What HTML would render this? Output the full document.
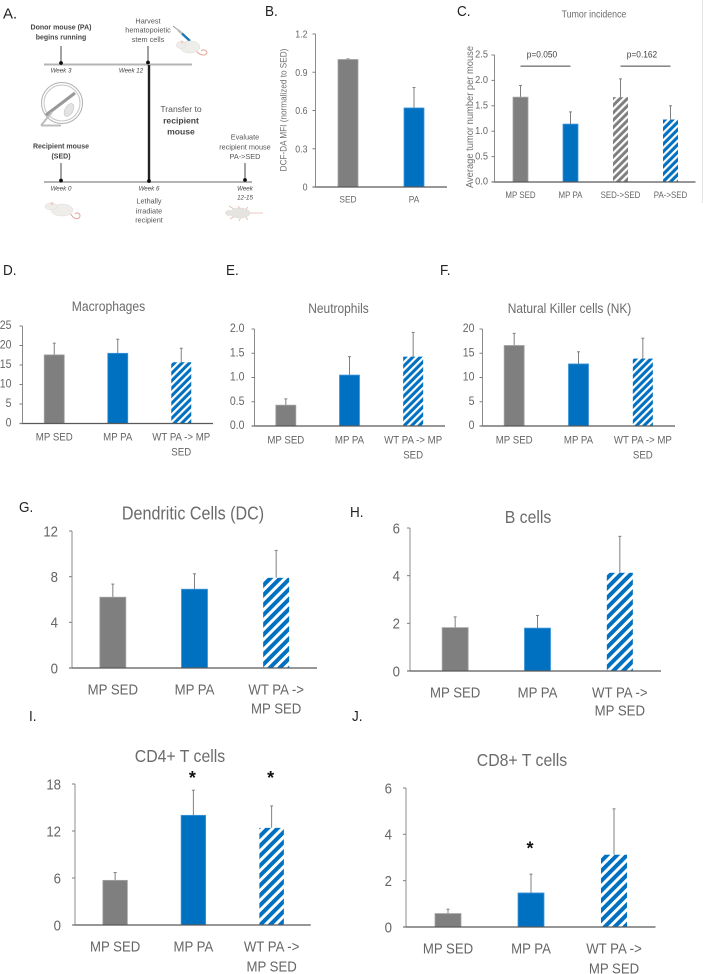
<!DOCTYPE html>
<html lang="en">
<head>
<meta charset="utf-8">
<title>Exercise and tumor incidence figure</title>
<style>
html,body{margin:0;padding:0;background:#fff;}
#figure{display:block;width:703px;height:974px;font-family:"Liberation Sans",sans-serif;}
#schematic text{font-family:"Liberation Sans",sans-serif;text-anchor:middle;dominant-baseline:central;}
</style>
</head>
<body>
<svg id="figure" xmlns="http://www.w3.org/2000/svg" width="703" height="974" viewBox="0 0 703 974">
<defs>
<filter id="soft" x="-5%" y="-5%" width="110%" height="110%"><feGaussianBlur stdDeviation="0.35"/></filter>
<pattern id="hatch-blue" width="5.3" height="6" patternUnits="userSpaceOnUse" patternTransform="rotate(45)"><rect width="5.3" height="6" fill="#0070c0"/><rect width="2.2" height="6" fill="#fff"/></pattern>
<pattern id="hatch-gray" width="5.2" height="6" patternUnits="userSpaceOnUse" patternTransform="rotate(45)"><rect width="5.2" height="6" fill="#7f7f7f"/><rect width="2.2" height="6" fill="#fff"/></pattern>
<pattern id="hatch-blue-large" width="7" height="6" patternUnits="userSpaceOnUse" patternTransform="rotate(45)"><rect width="7" height="6" fill="#0070c0"/><rect width="3" height="6" fill="#fff"/></pattern>
</defs>
<line x1="702.5" y1="0" x2="702.5" y2="203" stroke="#e4e4e4" stroke-width="1"/>
<text x="3" y="14" font-size="15" fill="#222" dominant-baseline="central">A.</text>

<g id="schematic" filter="url(#soft)">
  <line x1="44" y1="64.5" x2="192" y2="64.5" stroke="#b4b4b4" stroke-width="2"/>
  <line x1="44" y1="182" x2="252" y2="182" stroke="#b4b4b4" stroke-width="2"/>
  <line x1="149" y1="65" x2="149" y2="182" stroke="#222" stroke-width="2.4"/>
  <g stroke="#444" stroke-width="1">
    <line x1="61" y1="46" x2="61" y2="63"/><line x1="148" y1="46" x2="148" y2="63"/>
    <line x1="61" y1="163" x2="61" y2="181"/><line x1="245" y1="163" x2="245" y2="181"/>
  </g>
  <g fill="#111">
    <circle cx="61" cy="63" r="1.9"/><circle cx="148" cy="62.5" r="1.9"/><circle cx="61" cy="180.5" r="1.9"/><circle cx="149" cy="181" r="1.9"/><circle cx="245" cy="180" r="1.9"/>
  </g>
  <g fill="none">
    <circle cx="62" cy="103" r="20.5" stroke="#b0b0b0" stroke-width="1"/>
    <circle cx="62" cy="103" r="18" stroke="#c4c4c4" stroke-width="1"/>
    <line x1="46" y1="115" x2="75" y2="93" stroke="#999" stroke-width="3"/>
    <path d="M41 125.5H61M41 125.5L52 112" stroke="#bdbdbd" stroke-width="2"/>
    <ellipse cx="69" cy="110" rx="4" ry="7" transform="rotate(30 69 110)" fill="#e3e3e3" stroke="#c4c4c4" stroke-width=".6"/>
  </g>
  <g>
    <line x1="173" y1="26" x2="178" y2="30" stroke="#999" stroke-width="1"/>
    <line x1="178" y1="30" x2="182" y2="33.5" stroke="#bbb" stroke-width="2.4"/>
    <line x1="182" y1="33.5" x2="190" y2="41" stroke="#1f78b4" stroke-width="2.4"/>
  </g>
  <g>
    <path d="M196 51C201 56 205 56 207 53C207 50 203 49 201 51" fill="none" stroke="#e4a596" stroke-width="1"/>
    <ellipse cx="190" cy="47" rx="10" ry="6" fill="#efedea" stroke="#ddd" stroke-width=".5"/>
    <ellipse cx="181" cy="45" rx="5" ry="3.4" fill="#efedea" stroke="#ddd" stroke-width=".5"/>
    <circle cx="182" cy="42" r="1.5" fill="#eecfc8"/>
  </g>
  <g>
    <path d="M70 213C74 220 79 220 80 216C80 213 77 212 75 214" fill="none" stroke="#e4a596" stroke-width="1"/>
    <ellipse cx="62" cy="210" rx="11" ry="6" fill="#efedea" stroke="#ddd" stroke-width=".5"/>
    <ellipse cx="51" cy="206.5" rx="6" ry="3.4" fill="#efedea" stroke="#ddd" stroke-width=".5"/>
    <circle cx="52" cy="203.5" r="1.5" fill="#eecfc8"/>
  </g>
  <g>
    <path d="M250 213H263M229 206L234 209M230 219L235 216M238 206L241 210M239 221L241 217M248 207L245 210M248 220L245 216" fill="none" stroke="#e4b5aa" stroke-width=".8"/>
    <ellipse cx="240" cy="213" rx="10" ry="5" fill="#e6e4e0" stroke="#d8d8d8" stroke-width=".5"/>
    <ellipse cx="229" cy="213" rx="4" ry="3" fill="#e6e4e0"/>
  </g>
  <g fill="#555" font-size="7.3">
    <g font-weight="bold" fill="#444" font-size="7">
      <text x="61" y="28">Donor mouse (PA)</text><text x="61" y="38">begins running</text>
      <text x="61" y="147">Recipient mouse</text><text x="61" y="157">(SED)</text>
    </g>
    <text x="148" y="21">Harvest</text><text x="148" y="30">hematopoietic</text><text x="148" y="39.5">stem cells</text>
    <g font-style="italic" fill="#444" font-size="6.2">
      <text x="61" y="71">Week 3</text><text x="131" y="71">Week 12</text>
      <text x="61" y="189">Week 0</text><text x="149" y="189">Week 6</text>
      <text x="245" y="189">Week</text><text x="245" y="198">12-15</text>
    </g>
    <text x="181" y="109" font-size="8.6">Transfer to</text>
    <text x="181" y="120.5" font-size="8.6" font-weight="bold" fill="#444">recipient</text>
    <text x="181" y="131.5" font-size="8.6" font-weight="bold" fill="#444">mouse</text>
    <text x="149" y="201">Lethally</text><text x="149" y="211">irradiate</text><text x="149" y="220">recipient</text>
    <text x="245" y="137">Evaluate</text><text x="245" y="147">recipient mouse</text><text x="245" y="156.5">PA-&gt;SED</text>
  </g>
</g>
<g id="charts"></g>
</svg>
<script>
// ---------- chart data ----------
const bCategories = ['SED', 'PA'];
const bValues = [1.0, 0.62];
const bErrors = [0.005, 0.16];
const bTicks = [0, 0.3, 0.6, 0.9, 1.2];
const bTickLabels = ['0', '0.3', '0.6', '0.9', '1.2'];

const cCategories = ['MP SED', 'MP PA', 'SED->SED', 'PA->SED'];
const cValues = [1.67, 1.14, 1.67, 1.23];
const cErrors = [0.23, 0.24, 0.36, 0.27];
const cTicks = [0, 0.5, 1.0, 1.5, 2.0, 2.5];
const cTickLabels = ['0.0', '0.5', '1.0', '1.5', '2.0', '2.5'];
const cPLabels = ['p=0.050', 'p=0.162'];
const cPLevel = 2.28;

const dCategories = ['MP SED', 'MP PA', 'WT PA -> MP|SED'];
const dValues = [17.6, 18.0, 15.7];
const dErrors = [3.0, 3.6, 3.6];
const dTicks = [0, 5, 10, 15, 20, 25];
const dTickLabels = ['0', '5', '10', '15', '20', '25'];

const eCategories = ['MP SED', 'MP PA', 'WT PA -> MP|SED'];
const eValues = [0.43, 1.05, 1.43];
const eErrors = [0.13, 0.38, 0.5];
const eTicks = [0, 0.5, 1.0, 1.5, 2.0];
const eTickLabels = ['0.0', '0.5', '1.0', '1.5', '2.0'];

const fCategories = ['MP SED', 'MP PA', 'WT PA -> MP|SED'];
const fValues = [16.6, 12.8, 13.9];
const fErrors = [2.5, 2.5, 4.2];
const fTicks = [0, 5, 10, 15, 20];
const fTickLabels = ['0', '5', '10', '15', '20'];

const gCategories = ['MP SED', 'MP PA', 'WT PA ->|MP SED'];
const gValues = [6.2, 6.9, 7.9];
const gErrors = [1.15, 1.35, 2.4];
const gTicks = [0, 4, 8, 12];
const gTickLabels = ['0', '4', '8', '12'];

const hCategories = ['MP SED', 'MP PA', 'WT PA ->|MP SED'];
const hValues = [1.82, 1.8, 4.12];
const hErrors = [0.45, 0.53, 1.53];
const hTicks = [0, 2, 4, 6];
const hTickLabels = ['0', '2', '4', '6'];

const iCategories = ['MP SED', 'MP PA', 'WT PA ->|MP SED'];
const iValues = [5.7, 14.0, 12.4];
const iErrors = [1.0, 3.2, 2.8];
const iTicks = [0, 6, 12, 18];
const iTickLabels = ['0', '6', '12', '18'];
const iStars = [null, 19.1, 19.1];

const jCategories = ['MP SED', 'MP PA', 'WT PA ->|MP SED'];
const jValues = [0.58, 1.47, 3.12];
const jErrors = [0.19, 0.81, 1.98];
const jTicks = [0, 2, 4, 6];
const jTickLabels = ['0', '2', '4', '6'];
const jStars = [null, 3.5, null];

// ---------- drawing ----------
const NS = 'http://www.w3.org/2000/svg';
const chartsRoot = document.getElementById('charts');
const INK = '#666666';

function shape(parent, tag, props) {
  const el = document.createElementNS(NS, tag);
  for (const k in props) el.setAttribute(k, props[k]);
  parent.appendChild(el);
  return el;
}
function label(parent, x, y, str, size, anchor, sx, fill, weight) {
  const el = shape(parent, 'text', {
    transform: 'translate(' + x + ' ' + y + ') scale(' + (sx || 1) + ' 1)',
    'font-size': size, 'text-anchor': anchor || 'middle', 'dominant-baseline': 'central',
    fill: fill || INK
  });
  if (weight) el.setAttribute('font-weight', weight);
  el.textContent = str;
  return el;
}

function drawPanel(p) {
  const g = shape(chartsRoot, 'g', {});
  
  

  const maxTick = p.ticks[p.ticks.length - 1];
  const yScale = v => p.bottom - (v / maxTick) * (p.bottom - p.top);
  const band = (p.right - p.left) / p.categories.length;
  const xScale = i => p.left + (i + 0.5) * band;

  const letter = label(g, p.letterX, p.letterY, p.id.toUpperCase() + '.', p.letterSize, 'start', 0.9, '#222');
  
  

  if (p.title) {
    const title = label(g, p.titleX, p.titleY, p.title, p.titleSize, 'middle', 0.88, '#6b6b6b');
    
    
  }

  p.values.forEach((v, i) => {
    const top = yScale(v);
    const errTop = yScale(v + p.errors[i]);
    const cx = xScale(i);

    const err = shape(g, 'line', { x1: cx, x2: cx, y1: top, y2: errTop, stroke: '#808080', 'stroke-width': 1 });
    
    

    const cap = shape(g, 'line', { x1: cx - 1.5, x2: cx + 1.5, y1: errTop, y2: errTop, stroke: '#808080', 'stroke-width': 1 });
    
    

    const bar = shape(g, 'rect', {
      x: cx - p.barWidth / 2, y: top, width: p.barWidth, height: p.bottom - top,
      fill: p.fills[i], stroke: p.strokes[i], 'stroke-width': 0.8
    });
    
    

    p.categories[i].split('|').forEach((line, k) => {
      const cat = label(g, cx, p.catY + k * p.catGap, line, p.catSize, 'middle', 0.88);
      
      
    });
  });

  const yAxis = shape(g, 'line', { x1: p.axisX, x2: p.axisX, y1: p.top, y2: p.bottom, stroke: '#8c8c8c', 'stroke-width': 1 });
  
  

  const xAxis = shape(g, 'line', { x1: p.axisX - 3, x2: p.right, y1: p.bottom, y2: p.bottom, stroke: '#595959', 'stroke-width': 1.3 });
  
  

  p.ticks.forEach((t, i) => {
    const ty = yScale(t);
    const tick = shape(g, 'line', { x1: p.axisX - 3, x2: p.axisX, y1: ty, y2: ty, stroke: '#7f7f7f', 'stroke-width': 1 });
    
    
    const tl = label(g, p.axisX - p.tickGap, ty, p.tickLabels[i], p.tickSize, 'end', 0.88);
    
    
  });

  if (p.stars) {
    p.stars.forEach((s, i) => {
      if (s === null) return;
      const star = label(g, xScale(i) - 1, yScale(s) + 2.5, '*', 18, 'middle', 1, '#111', 'bold');
      
      
    });
  }

  if (p.yTitle) {
    const yt = label(g, p.yTitleX, p.yTitleY, p.yTitle, p.yTitleSize, 'middle', 1, '#707070');
    yt.setAttribute('transform', 'translate(' + p.yTitleX + ' ' + p.yTitleY + ') rotate(-90) scale(0.9 1)');
    
    
  }

  if (p.pLabels) {
    p.pLabels.forEach((txt, k) => {
      const a = xScale(k * 2);
      const b = xScale(k * 2 + 1);
      const py = yScale(p.pLevel);
      const rule = shape(g, 'line', { x1: a, x2: b, y1: py, y2: py, stroke: '#444', 'stroke-width': 1 });
      
      
      const pt = label(g, (a + b) / 2 - 3.5, py - 12, txt, 9.5, 'middle', 0.88, '#404040');
      
      
    });
  }
}

const GRAY = '#7f7f7f', BLUE = '#0070c0', HB = 'url(#hatch-blue)', HL = 'url(#hatch-blue-large)', HG = 'url(#hatch-gray)';
const S_GRAY = '#a3a3a3', S_BLUE = '#3f97dc';
const threeFills = [GRAY, BLUE, HB];
const largeFills = [GRAY, BLUE, HL];
const threeStrokes = [S_GRAY, S_BLUE, 'none'];

drawPanel({ id: 'b', title: '', titleX: 0, titleY: 0, titleSize: 10, letterX: 265, letterY: 12, letterSize: 15,
  categories: bCategories, values: bValues, errors: bErrors, ticks: bTicks, tickLabels: bTickLabels,
  left: 315, right: 447, axisX: 315.5, top: 34, bottom: 187, barWidth: 20, fills: [GRAY, BLUE], strokes: [S_GRAY, S_BLUE],
  catY: 199.5, catGap: 12, catSize: 9.5, tickGap: 8, tickSize: 10,
  yTitle: 'DCF-DA MFI (normalized to SED)', yTitleX: 283.5, yTitleY: 110, yTitleSize: 9.1 });

drawPanel({ id: 'c', title: 'Tumor incidence', titleX: 594, titleY: 14, titleSize: 10, letterX: 457, letterY: 12, letterSize: 15,
  categories: cCategories, values: cValues, errors: cErrors, ticks: cTicks, tickLabels: cTickLabels,
  left: 495.5, right: 695.5, axisX: 494.5, top: 55, bottom: 182, barWidth: 15, fills: [GRAY, BLUE, HG, HB], strokes: [S_GRAY, S_BLUE, 'none', 'none'],
  catY: 195, catGap: 12, catSize: 9, tickGap: 6.5, tickSize: 10.5,
  yTitle: 'Average tumor number per mouse', yTitleX: 470.5, yTitleY: 117, yTitleSize: 10.4,
  pLabels: cPLabels, pLevel: cPLevel });

drawPanel({ id: 'd', title: 'Macrophages', titleX: 108.5, titleY: 306, titleSize: 13.8, letterX: 3, letterY: 271, letterSize: 15,
  categories: dCategories, values: dValues, errors: dErrors, ticks: dTicks, tickLabels: dTickLabels,
  left: 22.5, right: 213, axisX: 22.5, top: 326, bottom: 423.5, barWidth: 20, fills: threeFills, strokes: threeStrokes,
  catY: 438, catGap: 15, catSize: 11, tickGap: 11, tickSize: 12 });

drawPanel({ id: 'e', title: 'Neutrophils', titleX: 338.5, titleY: 308, titleSize: 13.6, letterX: 226, letterY: 271, letterSize: 15,
  categories: eCategories, values: eValues, errors: eErrors, ticks: eTicks, tickLabels: eTickLabels,
  left: 254, right: 445, axisX: 254.5, top: 329, bottom: 426, barWidth: 20, fills: threeFills, strokes: threeStrokes,
  catY: 441, catGap: 15, catSize: 11, tickGap: 10, tickSize: 12 });

drawPanel({ id: 'f', title: 'Natural Killer cells (NK)', titleX: 569.5, titleY: 308, titleSize: 13.6, letterX: 440, letterY: 271, letterSize: 15,
  categories: fCategories, values: fValues, errors: fErrors, ticks: fTicks, tickLabels: fTickLabels,
  left: 482, right: 675, axisX: 482.5, top: 329, bottom: 426, barWidth: 20, fills: threeFills, strokes: threeStrokes,
  catY: 441, catGap: 15, catSize: 11, tickGap: 8, tickSize: 12 });

drawPanel({ id: 'g', title: 'Dendritic Cells (DC)', titleX: 193, titleY: 513, titleSize: 18.3, letterX: 19, letterY: 508, letterSize: 15,
  categories: gCategories, values: gValues, errors: gErrors, ticks: gTicks, tickLabels: gTickLabels,
  left: 72, right: 317, axisX: 72, top: 531, bottom: 668, barWidth: 26, fills: largeFills, strokes: threeStrokes,
  catY: 689, catGap: 19, catSize: 15, tickGap: 14, tickSize: 15 });

drawPanel({ id: 'h', title: 'B cells', titleX: 528, titleY: 517, titleSize: 18, letterX: 350, letterY: 513, letterSize: 15,
  categories: hCategories, values: hValues, errors: hErrors, ticks: hTicks, tickLabels: hTickLabels,
  left: 414, right: 661, axisX: 410, top: 528, bottom: 671, barWidth: 26, fills: largeFills, strokes: threeStrokes,
  catY: 692, catGap: 18, catSize: 15, tickGap: 10, tickSize: 15 });

drawPanel({ id: 'i', title: 'CD4+ T cells', titleX: 180, titleY: 756, titleSize: 18, letterX: 29, letterY: 717, letterSize: 15,
  categories: iCategories, values: iValues, errors: iErrors, ticks: iTicks, tickLabels: iTickLabels,
  left: 76, right: 310.75, axisX: 75, top: 784, bottom: 925, barWidth: 24.5, fills: largeFills, strokes: threeStrokes,
  catY: 946, catGap: 20, catSize: 15, tickGap: 14, tickSize: 15, stars: iStars });

drawPanel({ id: 'j', title: 'CD8+ T cells', titleX: 522, titleY: 760, titleSize: 18, letterX: 352, letterY: 717, letterSize: 15,
  categories: jCategories, values: jValues, errors: jErrors, ticks: jTicks, tickLabels: jTickLabels,
  left: 406.5, right: 655.5, axisX: 406, top: 788, bottom: 927, barWidth: 26, fills: largeFills, strokes: threeStrokes,
  catY: 948, catGap: 20, catSize: 15, tickGap: 14, tickSize: 15, stars: jStars });
</script>
</body>
</html>
